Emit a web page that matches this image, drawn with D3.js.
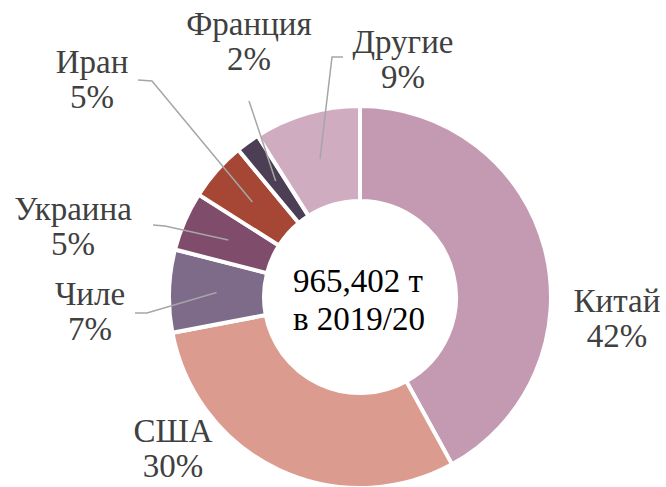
<!DOCTYPE html>
<html lang="ru">
<head>
    <meta charset="utf-8">
    <title>Donut</title>
    <script src="https://d3js.org/d3.v7.js"></script>
    <style>
        body { margin: 0; background: #fff; }
        text { font-family: "Liberation Serif", "Times New Roman", serif; }
        .lbl { font-size: 33px; fill: #404040; }
        .center { font-size: 33px; fill: #000; }
        .leader { fill: none; stroke: #a6a6a6; stroke-width: 1.5px; }
    </style>
</head>
<body>
<svg width="666" height="487"></svg>
<script type="text/javascript">
    // data
    const countries = ["Китай", "США", "Чиле", "Украина", "Иран", "Франция", "Другие"];
    const shares = [42, 30, 7, 5, 5, 2, 9];
    const colors = ["#c49ab2", "#db9b8f", "#7e6b8a", "#7f4c6b", "#a64634", "#4b3e55", "#d0acc1"];
    const centerLines = ["965,402 т", "в 2019/20"];

    // label layout (placed by hand, like in the original)
    const labelLayout = {
        "Китай":   {x: 617, y: 312, stub: null},
        "США":     {x: 173, y: 442, stub: null},
        "Чиле":    {x: 90,  y: 305, stub: [[135, 313], [147, 313]]},
        "Украина": {x: 73,  y: 220, stub: [[153, 225], [165, 226]]},
        "Иран":    {x: 92,  y: 73,  stub: [[138, 80], [152, 81]]},
        "Франция": {x: 249, y: 35,  stub: [[249, 101]]},
        "Другие":  {x: 403, y: 53,  stub: [[343, 57], [332, 57]]}
    };

    let svg = d3.select("svg");
    let cx = 360, cy = 297;
    let outerR = 191, innerR = 96;

    let data = countries.map((c, i) => ({name: c, value: shares[i], color: colors[i]}));

    let pie = d3.pie()
        .value(d => d.value)
        .sort(null);

    let arc = d3.arc()
        .innerRadius(innerR)
        .outerRadius(outerR);

    let g = svg.append("g").attr("transform", `translate(${cx},${cy})`);
    let arcs = pie(data);

    g.selectAll("path.slice")
        .data(arcs)
        .join("path")
        .attr("class", "slice")
        .attr("d", arc)
        .attr("fill", d => d.data.color)
        .attr("stroke", "#fff")
        .attr("stroke-width", 4)
        .attr("stroke-linejoin", "miter");

    // leader lines
    arcs.forEach(function (d) {
        let lay = labelLayout[d.data.name];
        if (!lay.stub) return;
        let c = arc.centroid(d);
        let pts = lay.stub.concat([[c[0] + cx, c[1] + cy]]);
        svg.append("path")
            .attr("class", "leader")
            .attr("d", d3.line()(pts));
    });

    // labels
    arcs.forEach(function (d) {
        let lay = labelLayout[d.data.name];
        let t = svg.append("text")
            .attr("class", "lbl")
            .attr("text-anchor", "middle")
            .attr("x", lay.x)
            .attr("y", lay.y);
        t.append("tspan").attr("x", lay.x).text(d.data.name);
        t.append("tspan").attr("x", lay.x).attr("dy", 35).text(d.data.value + "%");
    });

    // center text
    let ct = svg.append("text")
        .attr("class", "center")
        .attr("x", 293)
        .attr("y", 292);
    centerLines.forEach(function (line, i) {
        ct.append("tspan").attr("x", 293).attr("dy", i === 0 ? 0 : 38).text(line);
    });
</script>
</body>
</html>
